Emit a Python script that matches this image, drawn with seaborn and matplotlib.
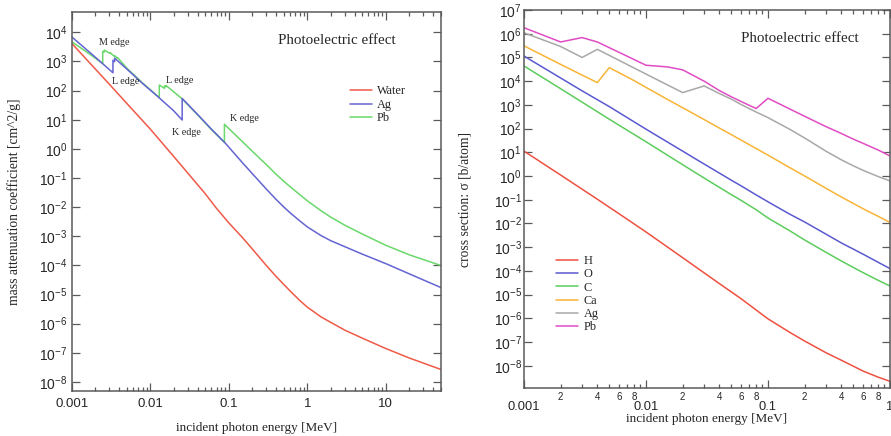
import numpy as np
import pandas as pd
import matplotlib
matplotlib.use("Agg")
import matplotlib.pyplot as plt
import matplotlib.ticker as mticker
import seaborn as sns

# ---------------- data: left panel (mass attenuation, cm^2/g) ----------------
water_E = [0.001, 0.002, 0.003, 0.005, 0.01, 0.02, 0.03, 0.04, 0.05, 0.07, 0.1, 0.15,
           0.2, 0.3, 0.4, 0.6, 0.8, 1.0, 1.5, 2.0, 3.0, 5.0, 10.0, 20.0, 50.0]
water_mu = [4200, 550, 168, 37, 4.8, 0.54, 0.149, 0.0594, 0.0292, 9.0e-3, 2.9e-3, 8.9e-4,
            3.64e-4, 1.0e-4, 4.2e-5, 1.35e-5, 6.3e-6, 3.7e-6, 1.7e-6, 1.1e-6, 6.0e-7,
            3.2e-7, 1.4e-7, 6.6e-8, 2.7e-8]

ag_E = [0.001, 0.002, 0.00335, 0.00335, 0.00352, 0.00352, 0.005, 0.008, 0.0126, 0.02,
        0.0255, 0.0255, 0.04, 0.06, 0.088, 0.1, 0.15, 0.2, 0.3, 0.4, 0.5, 0.6, 0.8, 1.0,
        1.5, 2.0, 3.0, 5.0, 10.0, 20.0, 50.0]
ag_mu = [7000, 1400, 410, 1100, 980, 1300, 560, 175, 61, 20,
         9.8, 54, 15.3, 4.8, 1.7, 1.15, 0.33, 0.14, 0.042, 0.0185, 0.0102, 6.5e-3, 3.4e-3,
         2.1e-3, 1.05e-3, 7.0e-4, 4.4e-4, 2.45e-4, 1.15e-4, 5.1e-5, 1.75e-5]

pb_E = [0.001, 0.0018, 0.00248, 0.00248, 0.00259, 0.00259, 0.00307, 0.00307, 0.00355,
        0.00355, 0.00385, 0.00385, 0.005, 0.008, 0.01304, 0.01304, 0.0152, 0.0152,
        0.0159, 0.0159, 0.02, 0.0255, 0.04, 0.06, 0.088, 0.088, 0.1, 0.15, 0.2, 0.3,
        0.4, 0.5, 0.6, 0.8, 1.0, 1.5, 2.0, 3.0, 5.0, 10.0, 20.0, 50.0]
pb_mu = [4800, 1590, 850, 2200, 2100, 2450, 1900, 2000, 1450,
         1550, 1300, 1350, 600, 182, 58, 155, 120, 145,
         135, 150, 90, 52, 14.8, 4.6, 1.65, 7.0, 5.0, 1.75, 0.82, 0.29,
         0.135, 0.078, 0.051, 0.027, 0.0165, 7.5e-3, 4.5e-3, 2.4e-3, 1.2e-3, 4.9e-4,
         2.3e-4, 1.0e-4]

left_names = ["Water", "Ag", "Pb"]

# ---------------- data: right panel (cross section, b/atom) ----------------
h_E = [0.001, 0.002, 0.004, 0.006, 0.01, 0.02, 0.04, 0.06, 0.1, 0.15, 0.2, 0.3, 0.4,
       0.6, 0.8, 1.0]
h_s = [11.3, 1.1, 0.105, 0.026, 4.4e-3, 3.6e-4, 2.9e-5, 6.8e-6, 9.5e-7, 2.6e-7, 1.1e-7,
       3.5e-8, 1.7e-8, 6.0e-9, 3.3e-9, 2.2e-9]

o_E = [0.001, 0.002, 0.003, 0.005, 0.01, 0.02, 0.03, 0.05, 0.06, 0.08, 0.1, 0.15, 0.2,
       0.3, 0.4, 0.5, 0.6, 0.8, 1.0]
o_s = [1.15e5, 1.36e4, 3.9e3, 850, 95, 11.2, 3.2, 0.67, 0.39, 0.16, 0.082, 0.025, 0.0115,
       3.5e-3, 1.5e-3, 8.3e-4, 5.1e-4, 2.3e-4, 1.25e-4]

c_E = [0.001, 0.002, 0.003, 0.005, 0.01, 0.02, 0.03, 0.05, 0.06, 0.08, 0.1, 0.15, 0.2,
       0.3, 0.4, 0.5, 0.6, 0.8, 1.0]
c_s = [4.4e4, 4.8e3, 1.3e3, 250, 28, 3.0, 0.82, 0.165, 0.095, 0.038, 0.017, 5.0e-3, 2.0e-3,
       6.0e-4, 2.6e-4, 1.4e-4, 8.5e-5, 4.0e-5, 2.3e-5]

ca_E = [0.001, 0.002, 0.003, 0.004, 0.005, 0.006, 0.008, 0.01, 0.015, 0.02, 0.03, 0.04,
        0.05, 0.06, 0.08, 0.1, 0.15, 0.2, 0.3, 0.4, 0.5, 0.6, 0.8, 1.0]
ca_s = [3.1e5, 5.1e4, 1.8e4, 8.7e3, 3.7e4, 2.3e4, 1.05e4, 5.5e3, 1.7e3, 760, 240, 105,
        56, 33, 14.5, 7.6, 2.3, 1.0, 0.3, 0.13, 0.07, 0.042, 0.02, 0.011]

agr_E = [0.001, 0.002, 0.003, 0.004, 0.01, 0.02, 0.03, 0.04, 0.05, 0.06, 0.08, 0.1,
         0.15, 0.2, 0.3, 0.4, 0.5, 0.6, 0.8, 1.0]
agr_s = [1.1e6, 2.9e5, 1.0e5, 2.2e5, 2.0e4, 3.3e3, 6.3e3, 3.0e3, 1.75e3, 1.05e3, 500, 290,
         95, 40, 11, 4.8, 2.7, 1.75, 0.95, 0.62]

pbr_E = [0.001, 0.002, 0.003, 0.004, 0.01, 0.015, 0.02, 0.03, 0.04, 0.05, 0.06, 0.08,
         0.1, 0.15, 0.2, 0.3, 0.4, 0.5, 0.6, 0.8, 1.0]
pbr_s = [1.8e6, 4.5e5, 6.9e5, 4.5e5, 4.7e4, 4.0e4, 3.0e4, 1.0e4, 4.0e3, 2.2e3, 1.4e3, 700,
         1.9e3, 680, 330, 120, 62, 36, 24, 12.5, 7.0]

right_names = ["H", "O", "C", "Ca", "Ag", "Pb"]

x_major_left = [0.001, 0.01, 0.1, 1, 10]
x_major_left_labels = ["0.001", "0.01", "0.1", "1", "10"]
x_major_right = [0.001, 0.01, 0.1, 1]
x_major_right_labels = ["0.001", "0.01", "0.1", "1"]

# ---------------- style ----------------
sns.set_style("ticks")
plt.rcParams["font.family"] = ["Liberation Serif", "DejaVu Serif"]
plt.rcParams["mathtext.fontset"] = "custom"
plt.rcParams["mathtext.rm"] = "Liberation Sans"
plt.rcParams["mathtext.it"] = "Liberation Sans:italic"
plt.rcParams["mathtext.default"] = "regular"

SPINE = "#5a5a5a"
LW = 1.1
SANS = "Liberation Sans"

fig = plt.figure(figsize=(8.91, 4.36), dpi=100)
ax1 = fig.add_axes([0.0805, 0.1039, 0.4141, 0.8686])
ax2 = fig.add_axes([0.588, 0.1094, 0.4109, 0.8676])


def draw(ax, E, v, name, color):
    df = pd.DataFrame({"E": E, "v": v})
    sns.lineplot(data=df, x="E", y="v", ax=ax, color=color, lw=LW,
                 estimator=None, sort=False, label=name)


# left panel
draw(ax1, water_E, water_mu, left_names[0], "#ef5a48")
draw(ax1, pb_E, pb_mu, left_names[2], "#6ad86a")
draw(ax1, ag_E, ag_mu, left_names[1], "#6464d2")

# right panel
right_cols = ["#ef5040", "#5a5ad0", "#5ccc5c", "#f8b436", "#a8a8a8", "#e04cc4"]
for E, s, n, c in zip([h_E, o_E, c_E, ca_E, agr_E, pbr_E],
                      [h_s, o_s, c_s, ca_s, agr_s, pbr_s], right_names, right_cols):
    draw(ax2, E, s, n, c)


def exp_fmt(y, pos):
    e = int(round(np.log10(y)))
    return r"$10^{%d}$" % e


for ax in (ax1, ax2):
    ax.set_xscale("log")
    ax.set_yscale("log")
    for sp in ax.spines.values():
        sp.set_visible(True)
        sp.set_color(SPINE)
        sp.set_linewidth(1.1)
    ax.tick_params(which="both", direction="in", top=True, right=True,
                   color=SPINE, width=0.9)
    ax.tick_params(which="major", length=6)
    ax.tick_params(which="minor", length=3.2)
    ax.yaxis.set_major_locator(mticker.LogLocator(base=10, numticks=30))
    ax.yaxis.set_minor_locator(mticker.NullLocator())
    ax.yaxis.set_major_formatter(mticker.FuncFormatter(exp_fmt))
    ax.xaxis.set_minor_locator(mticker.LogLocator(base=10, subs=np.arange(2, 10), numticks=30))
    for lab in ax.get_yticklabels():
        lab.set_fontfamily(SANS)
    ax.tick_params(axis="y", labelsize=10, pad=3)

# left axes
ax1.set_xlim(0.001, 50)
ax1.set_ylim(5e-9, 5e4)
ax1.xaxis.set_major_locator(mticker.FixedLocator(x_major_left))
ax1.xaxis.set_major_formatter(mticker.FixedFormatter(x_major_left_labels))
ax1.xaxis.set_minor_formatter(mticker.NullFormatter())
ax1.tick_params(axis="x", which="major", labelsize=9.5, pad=5)
for lab in ax1.get_xticklabels():
    lab.set_fontfamily(SANS)

# right axes
ax2.set_xlim(0.001, 1)
ax2.set_ylim(1.12e-9, 1e7)
ax2.xaxis.set_major_locator(mticker.FixedLocator(x_major_right))
ax2.xaxis.set_major_formatter(mticker.FixedFormatter(x_major_right_labels))


def minor_fmt(x, pos):
    m = int(round(x / 10 ** np.floor(np.log10(x) + 1e-9)))
    return str(m) if m in (2, 4, 6, 8) else ""


ax2.xaxis.set_minor_formatter(mticker.FuncFormatter(minor_fmt))
ax2.tick_params(axis="x", which="major", labelsize=9.3, pad=9)
ax2.tick_params(axis="x", which="minor", labelsize=7, pad=2.5)
ax2.tick_params(axis="y", pad=1.5)
for lab in ax2.get_xticklabels() + ax2.get_xticklabels(minor=True):
    lab.set_fontfamily(SANS)

# labels
ax1.set_xlabel("incident photon energy [MeV]", fontsize=9.5)
ax1.set_ylabel("mass attenuation coefficient [cm^2/g]", fontsize=9.8)
ax2.set_xlabel("incident photon energy [MeV]", fontsize=9.5)
ax2.set_ylabel("cross section: σ [b/atom]", fontsize=9.8)
ax1.xaxis.set_label_coords(0.5, -0.098)
ax1.xaxis.label.set_va("center")
ax2.xaxis.set_label_coords(0.5, -0.082)
ax2.xaxis.label.set_va("center")
ax1.yaxis.set_label_coords(-0.156, 0.5)
ax1.yaxis.label.set_va("center")
ax2.yaxis.set_label_coords(-0.161, 0.5)
ax2.yaxis.label.set_va("center")

ax1.text(0.559, 0.924, "Photoelectric effect", transform=ax1.transAxes,
         fontsize=10.8, ha="left", va="center")
ax2.text(0.593, 0.925, "Photoelectric effect", transform=ax2.transAxes,
         fontsize=10.8, ha="left", va="center")

# edge annotations
edge_texts = [("M edge", 0.00222, 4400), ("L edge", 0.00322, 200), ("L edge", 0.0161, 230),
              ("K edge", 0.01866, 3.66), ("K edge", 0.1026, 11.1)]
for t, ex, ey in edge_texts:
    ax1.text(ex, ey, t, fontsize=7.3, ha="left", va="center")

# legends
h1, l1 = ax1.get_legend_handles_labels()
order = [l1.index(n) for n in left_names]
ax1.legend([h1[i] for i in order], [l1[i] for i in order], loc="upper left",
           bbox_to_anchor=(0.754, 0.806), frameon=False, fontsize=8.8,
           handlelength=1.8, handletextpad=0.4, labelspacing=0.12,
           borderpad=0, borderaxespad=0)
ax2.legend(loc="upper left", bbox_to_anchor=(0.089, 0.352), frameon=False,
           fontsize=8.8, handlelength=1.8, handletextpad=0.4, labelspacing=0.1,
           borderpad=0, borderaxespad=0)

fig.savefig("out.png", dpi=100)
